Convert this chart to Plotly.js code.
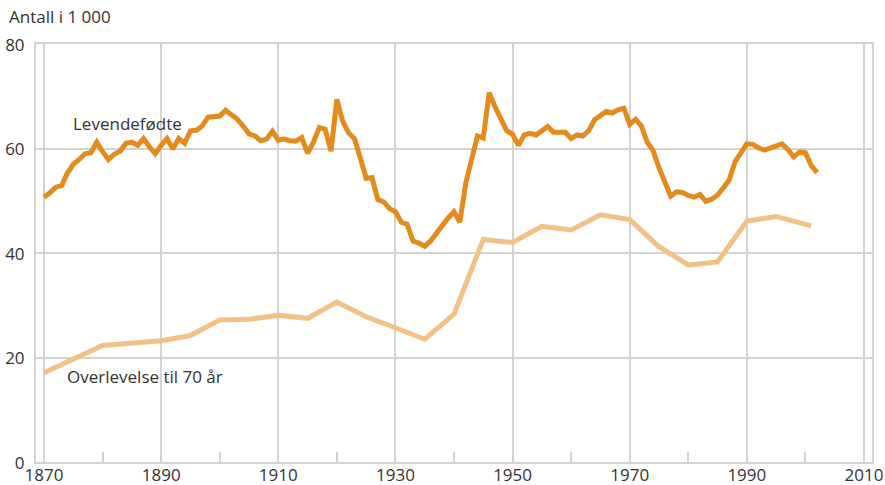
<!DOCTYPE html>
<html>
<head>
<meta charset="utf-8">
<script src="https://cdn.plot.ly/plotly-3.0.1.min.js"></script>
<style>html,body{margin:0;padding:0;background:#fff;}#chart{width:885px;height:485px;}</style>
</head>
<body>
<div id="chart"></div>
<script>
const birthYears = [];
for (let y = 1870; y <= 2002; y++) birthYears.push(y);
const births = [
 50.7,51.5,52.6,52.9,55.3,57.0,57.9,59.0,59.2,61.2,
 59.4,57.9,58.9,59.5,61.0,61.2,60.6,61.9,60.3,59.0,
 60.6,61.9,59.9,61.9,61.0,63.4,63.5,64.3,66.0,66.0,
 66.2,67.3,66.5,65.6,64.3,62.8,62.4,61.5,61.8,63.3,
 61.6,61.8,61.5,61.4,62.1,59.1,61.2,64.0,63.7,59.5,
 69.4,65.2,63.0,61.9,58.2,54.3,54.4,50.2,49.8,48.5,
 47.9,45.9,45.5,42.3,41.9,41.3,42.3,43.8,45.4,46.7,
 47.9,45.9,53.3,57.4,62.4,62.0,70.7,68.0,65.8,63.4,
 62.7,60.6,62.6,62.9,62.6,63.4,64.2,63.1,63.1,63.1,
 61.9,62.6,62.4,63.4,65.5,66.3,67.1,66.8,67.4,67.7,
 64.6,65.6,64.3,61.2,59.6,56.3,53.5,50.9,51.7,51.6,
 51.0,50.7,51.2,49.9,50.3,51.1,52.5,54.0,57.5,59.3,
 60.9,60.8,60.1,59.7,60.1,60.3,60.9,59.8,58.4,59.3,
 59.2,56.7,55.4
];
const survYears = [1870,1875,1880,1890,1895,1900,1905,1910,1915,1920,1925,1930,1935,1940,1945,1950,1955,1960,1965,1970,1975,1980,1985,1990,1995,2001];
const survival = [17.1,19.7,22.3,23.2,24.2,27.2,27.3,28.1,27.5,30.6,27.8,25.7,23.5,28.3,42.6,42.0,45.1,44.4,47.3,46.4,41.2,37.7,38.3,46.1,47.0,45.2];
const xTicks = [1870,1890,1910,1930,1950,1970,1990,2010];
const yTicks = [0,20,40,60,80];

const grid = '#d3d3d3';
const txt = '#333333';
const fontFam = '"Open Sans", "Noto Sans", sans-serif';

const traces = [
 {x: survYears, y: survival, type: 'scatter', mode: 'lines',
  line: {color: '#f3c185', width: 5}, hoverinfo: 'skip'},
 {x: birthYears, y: births, type: 'scatter', mode: 'lines',
  line: {color: '#e58a1c', width: 5}, hoverinfo: 'skip'}
];

const layout = {
 width: 885, height: 485,
 margin: {l: 36, r: 13, t: 44, b: 23},
 paper_bgcolor: '#fff', plot_bgcolor: '#fff',
 showlegend: false,
 font: {family: fontFam, size: 17, color: txt},
 xaxis: {
  range: [1868.63, 2011.37], tickvals: xTicks, ticktext: xTicks.map(String),
  showgrid: true, gridcolor: grid, gridwidth: 2,
  showline: true, linecolor: grid, linewidth: 2, mirror: true,
  ticks: '', zeroline: false, fixedrange: true,
  tickfont: {size: 17, color: txt}, ticklabelstandoff: -3,
  minor: {dtick: 10, tick0: 1870, ticks: 'inside', ticklen: 10, tickwidth: 2, tickcolor: grid, showgrid: false}
 },
 yaxis: {
  range: [0, 80], tickvals: yTicks, ticktext: yTicks.map(String),
  showgrid: true, gridcolor: grid, gridwidth: 2,
  showline: true, linecolor: grid, linewidth: 2, mirror: true,
  ticks: '', zeroline: false, fixedrange: true,
  tickfont: {size: 17, color: txt}, ticklabelstandoff: 6, ticklabelshift: 1
 },
 annotations: [
  {text: 'Antall i 1 000', xref: 'paper', yref: 'paper', x: -0.0345, y: 1.0646,
   xanchor: 'left', yanchor: 'middle', showarrow: false, font: {size: 17, color: txt}},
  {text: 'Levendefødte', xref: 'x', yref: 'y', x: 1874.6, y: 64.7,
   xanchor: 'left', yanchor: 'middle', showarrow: false, font: {size: 17, color: txt}},
  {text: 'Overlevelse til 70 år', xref: 'x', yref: 'y', x: 1873.6, y: 16.3,
   xanchor: 'left', yanchor: 'middle', showarrow: false, font: {size: 17, color: txt}}
 ]
};

Plotly.newPlot('chart', traces, layout, {displayModeBar: false, staticPlot: true});
</script>
</body>
</html>
